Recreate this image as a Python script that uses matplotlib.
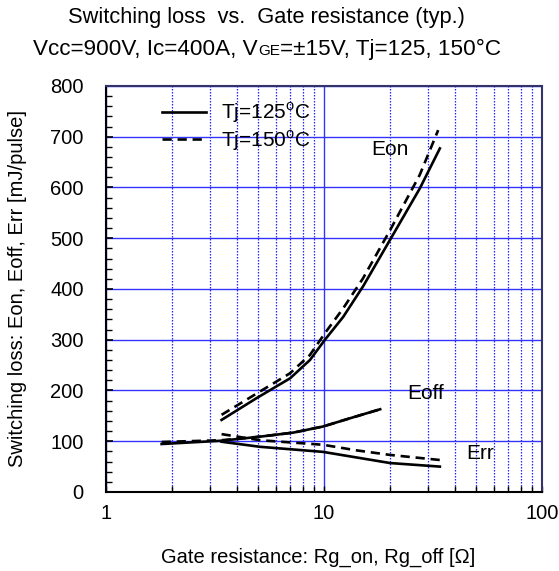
import numpy as np
import matplotlib
matplotlib.use("Agg")
import matplotlib.pyplot as plt
from matplotlib.ticker import MultipleLocator, LogLocator, NullFormatter

plt.rcParams['font.family'] = ['Liberation Sans', 'DejaVu Sans']
plt.rcParams['mathtext.fontset'] = 'custom'
plt.rcParams['mathtext.rm'] = 'Liberation Sans'

# data (Rg in ohm, loss in mJ/pulse)
rg_eon = [3.39, 4.91, 6.99, 8.62, 10.1, 12.25, 15.1, 20.1, 27.5, 34.0]
eon_125 = [142, 185, 224, 260, 300, 345, 405, 497, 598, 677]
rg_eon150 = [3.39, 4.91, 6.99, 8.62, 10.1, 12.25, 15.1, 20.1, 27.5, 33.4]
eon_150 = [152, 194, 234, 270, 313, 362, 421, 516, 625, 713]

rg_eoff = [1.8, 3.39, 5.09, 7.23, 9.9, 13.1, 18.1]
eoff_125 = [94.5, 101, 109, 117, 129, 145, 163]
eoff_150 = [98.5, 102, 109, 117, 129, 145, 163]

rg_err = [3.39, 5.09, 9.9, 14.1, 20.1, 34.0]
err_125 = [99, 89, 79, 68, 57, 50]
err_150 = [114, 102, 93, 82, 73, 63]

fig = plt.figure(figsize=(5.59, 5.71), dpi=100)
ax = fig.add_axes([0.1896, 0.1384, 0.78, 0.711])

lw = 1.9
dash = (3.5, 2.2)
ax.plot(rg_eon, eon_125, '-k', lw=lw, label=r'Tj=125$^{\mathrm{o}}$C')
ax.plot(rg_eon150, eon_150, '--k', lw=lw, dashes=dash, label=r'Tj=150$^{\mathrm{o}}$C')
ax.plot(rg_eoff, eoff_125, '-k', lw=lw)
ax.plot(rg_eoff, eoff_150, '--k', lw=lw, dashes=dash)
ax.plot(rg_err, err_125, '-k', lw=lw)
ax.plot(rg_err, err_150, '--k', lw=lw, dashes=dash)

ax.text(20.1, 674, 'Eon', fontsize=15, ha='center', va='center')
ax.text(29.1, 195, 'Eoff', fontsize=15, ha='center', va='center')
ax.text(52.0, 76, 'Err', fontsize=15, ha='center', va='center')

ax.set_xscale('log')
ax.set_xlim(1, 100)
ax.set_ylim(0, 800)
ax.set_xticks([1, 10, 100])
ax.set_xticklabels(['1', '10', '100'])
ax.xaxis.set_minor_locator(LogLocator(base=10, subs=np.arange(2, 10)))
ax.xaxis.set_minor_formatter(NullFormatter())
ax.yaxis.set_major_locator(MultipleLocator(100))
ax.yaxis.set_minor_locator(MultipleLocator(20))

ax.grid(which='major', axis='both', color='#3333ff', lw=1.0, ls='-')
ax.grid(which='minor', axis='x', color='#2222ff', lw=0.9, ls=(0, (1.2, 1.2)))
ax.set_axisbelow(True)

ax.tick_params(which='both', direction='in', top=False, right=False, labelsize=14.5)
ax.tick_params(axis='y', which='major', length=5, width=1.2, pad=16)
ax.tick_params(axis='y', which='minor', length=4, width=1.0)
ax.tick_params(axis='x', which='both', length=4, width=1.0, pad=9)

for s in ['left', 'bottom']:
    ax.spines[s].set_linewidth(1.5)
    ax.spines[s].set_color('black')
for s in ['top', 'right']:
    ax.spines[s].set_linewidth(1.5)
    ax.spines[s].set_color('#33336b')

ax.legend(loc='upper left', bbox_to_anchor=(0.1, 0.995), frameon=False, fontsize=15,
          handlelength=2.1, handletextpad=0.75, labelspacing=0.15, borderaxespad=0.2)

ax.set_ylabel('Switching loss: Eon, Eoff, Err [mJ/pulse]', fontsize=14.5, labelpad=17)
fig.text(0.569, 0.023, 'Gate resistance: Rg_on, Rg_off [\u03a9]', fontsize=14.5,
         ha='center', va='center')

# title
fig.text(0.476, 0.970, 'Switching loss  vs.  Gate resistance (typ.)', fontsize=15.7,
         ha='center', va='center')
fig.canvas.draw()
r = fig.canvas.get_renderer()
y2 = 0.903
parts = [('Vcc=900V, Ic=400A, V', 16.2), ('GE', 11), ('=\u00b115V, Tj=125, 150\u00b0C', 16.2)]
texts = [fig.text(0, y2, p, fontsize=fs, ha='left', va='baseline') for p, fs in parts]
widths = [t.get_window_extent(r).width / fig.bbox.width for t in texts]
x0 = 0.478 - sum(widths) / 2
for t, w in zip(texts, widths):
    t.set_x(x0)
    x0 += w

fig.savefig('out.png', dpi=100)
